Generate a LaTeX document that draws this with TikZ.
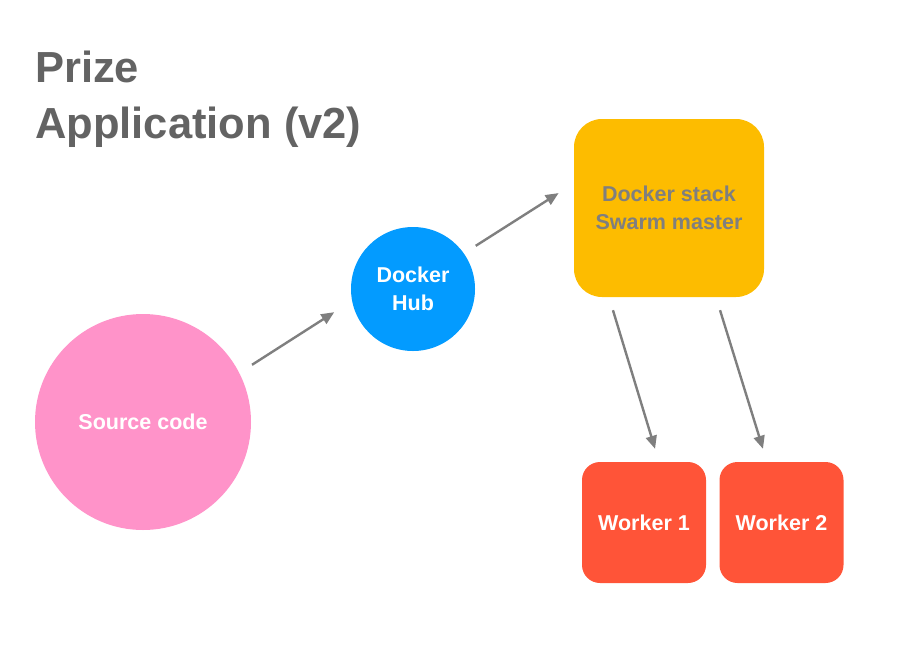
\documentclass[tikz,border=0pt]{standalone}
\usepackage{fontspec}
\setmainfont{Liberation Sans}
\usetikzlibrary{arrows.meta}

\definecolor{srcpink}{RGB}{255,147,201}
\definecolor{hubblue}{RGB}{3,155,255}
\definecolor{stackyellow}{RGB}{253,188,0}
\definecolor{workerred}{RGB}{255,84,56}
\definecolor{titlegray}{RGB}{99,99,99}
\definecolor{arrowgray}{RGB}{127,127,127}

\tikzset{
	flow/.style={draw=arrowgray, line width=2.4pt, -{Triangle[length=13pt,width=11pt]}},
	label/.style={font=\fontsize{21.5}{28}\selectfont\bfseries, align=center, inner sep=0pt},
	worker/.style={label, fill=workerred, text=white, minimum width=124pt, minimum height=121pt, rounded corners=18pt}
}

\begin{document}
\begin{tikzpicture}[x=1pt, y=-1pt]
			\useasboundingbox (0,0) rectangle (920,654);
			
			\node (title1) [anchor=base west, inner sep=0pt, text=titlegray, font=\fontsize{43.5}{56}\selectfont\bfseries] at (35,82) {Prize};
			\node (title2) [anchor=base west, inner sep=0pt, text=titlegray, font=\fontsize{43.5}{56}\selectfont\bfseries] at (35,138) {Application (v2)};
			
			\node (src) [label, circle, fill=srcpink, text=white, minimum size=216pt] at (143,422) {Source code};
			\node (hub) [label, circle, fill=hubblue, text=white, minimum size=124pt] at (413,289) {Docker\\Hub};
			\node (stack) [label, fill=stackyellow, text=arrowgray, minimum width=190pt, minimum height=178pt, rounded corners=28pt] at (669,208) {Docker stack\\Swarm master};
			\node (w1) [worker] at (644,522.5) {Worker 1};
			\node (w2) [worker] at (781.5,522.5) {Worker 2};
			
			\draw [flow, shorten <=15pt, shorten >=21pt] (src.27) -- (hub.191);
			\draw [flow, shorten <=14pt, shorten >=18pt] (hub.35) -- ([yshift=24.6pt]stack.west);
			\draw [flow, shorten <=13.6pt, shorten >=13.6pt] ([xshift=-60pt]stack.south) -- ([xshift=15pt]w1.north);
			\draw [flow, shorten <=13.6pt, shorten >=13.6pt] ([xshift=47pt]stack.south) -- ([xshift=-14.5pt]w2.north);
		\end{tikzpicture}
\end{document}
